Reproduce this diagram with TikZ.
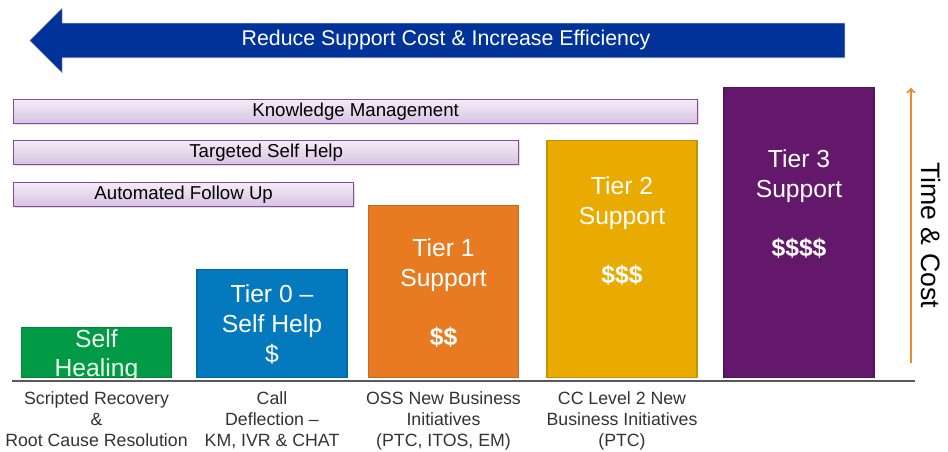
\documentclass[tikz,border=0pt]{standalone}
\usepackage{fontspec}
\setmainfont{Liberation Sans}
\usepackage{tikz}
\usetikzlibrary{positioning}
\usetikzlibrary{shapes, arrows, shadows}

\definecolor{bannerblue}{HTML}{003399}
\definecolor{healgreen}{HTML}{019A46}
\definecolor{zeroblue}{HTML}{0479BD}
\definecolor{oneorange}{HTML}{E87B22}
\definecolor{twogold}{HTML}{EAAB00}
\definecolor{threepurple}{HTML}{63186B}
\definecolor{bartop}{HTML}{F4ECF7}
\definecolor{barbottom}{HTML}{D8C2E1}
\definecolor{barline}{HTML}{874A9C}
\definecolor{captext}{HTML}{333333}
\definecolor{costorange}{HTML}{EC8A2E}

\begin{document}
\begin{tikzpicture}[x=0.75pt, y=-0.75pt]
    \tikzstyle{tier} = [rectangle, draw, line width=1pt, anchor=south,
    minimum width=112.5pt, inner sep=0pt]
    \tikzstyle{tiertext} = [text=white, align=center, inner sep=0pt,
    font=\fontsize{18.5}{22.5}\selectfont]
    \tikzstyle{bar} = [rectangle, draw=barline, line width=1pt, top color=bartop,
    bottom color=barbottom, anchor=west, minimum height=18pt, inner sep=0pt,
    drop shadow={opacity=0.25, shadow xshift=1pt, shadow yshift=-1pt},
    font=\fontsize{14}{16}\selectfont]
    \tikzstyle{caption} = [align=center, text=captext, inner sep=0pt,
    font=\fontsize{13.3}{15.75}\selectfont]
    \tikzstyle{rise} = [draw=costorange, line width=1.5pt, ->]
    \tikzstyle{ground} = [draw=gray!70!black, line width=1.5pt]
    \useasboundingbox (0,0) rectangle (948,452);

    % banner across the top
    \node [single arrow, shape border rotate=180, fill=bannerblue, draw=gray!60,
    single arrow head extend=11.25pt, minimum height=611.25pt, inner xsep=0pt,
    inner ysep=5.5pt, text height=11pt, text depth=3.5pt, text=white,
    font=\fontsize{16}{19}\selectfont] (banner) at (446,40.5)
    {Reduce Support Cost \& Increase Efficiency};

    % initiatives
    \node [bar, minimum width=513pt] (km) at (13,111.5) {Knowledge Management};
    \node [bar, minimum width=378.75pt] (tsh) at (13,152.5) {Targeted Self Help};
    \node [bar, minimum width=255pt] (afu) at (13,194.5) {Automated Follow Up};

    % support tiers
    \node [tier, fill=healgreen, draw=healgreen!85!black, minimum height=37.5pt]
    (heal) at (96.5,378) {};
    \node [tier, fill=zeroblue, draw=zeroblue!85!black, minimum height=81pt]
    (tierzero) at (272,378) {};
    \node [tier, fill=oneorange, draw=oneorange!85!black, minimum height=129pt]
    (tierone) at (443.5,378) {};
    \node [tier, fill=twogold, draw=twogold!85!black, minimum height=177.75pt]
    (tiertwo) at (622,378) {};
    \node [tier, fill=threepurple, draw=threepurple!85!black, minimum height=217.5pt]
    (tierthree) at (799,378) {};

    \node [tiertext, text=white!92!green] (healtext) at ([yshift=-2.5pt]heal.center)
    {Self\\[-0.75pt]Healing};
    \node [tiertext] (zerotext) at ([yshift=-1pt]tierzero.center) {Tier 0 --\\Self Help\\\$};
    \node [tiertext] (onetext) at ([yshift=-1pt]tierone.center)
    {Tier 1\\Support\\[21.75pt]\textbf{\$\$}};
    \node [tiertext] (twotext) at ([yshift=21pt]tiertwo.center)
    {Tier 2\\Support\\[21.75pt]\textbf{\$\$\$}};
    \node [tiertext] (threetext) at ([yshift=21pt]tierthree.center)
    {Tier 3\\Support\\[21.75pt]\textbf{\$\$\$\$}};

    % what each tier stands for
    \node [caption, below=10pt of heal] (healcap)
    {Scripted Recovery\\\&\\Root Cause Resolution};
    \node [caption, below=10pt of tierzero] (zerocap)
    {Call\\Deflection --\\KM, IVR \& CHAT};
    \node [caption, below=10pt of tierone] (onecap)
    {OSS New Business\\Initiatives\\(PTC, ITOS, EM)};
    \node [caption, below=10pt of tiertwo] (twocap)
    {CC Level 2 New\\Business Initiatives\\(PTC)};

    % base line
    \coordinate (groundl) at (12,381);
    \coordinate (groundr) at (915,381);
    \path [ground] (groundl) -- (groundr);

    % time and cost grow to the right
    \coordinate (costlow) at (911,363);
    \coordinate (costhigh) at (911,88);
    \path [rise] (costlow) -- (costhigh);
    \node [rotate=-90, font=\fontsize{20}{24}\selectfont] (costlabel) at (931,235)
    {Time \& Cost};
\end{tikzpicture}
\end{document}
